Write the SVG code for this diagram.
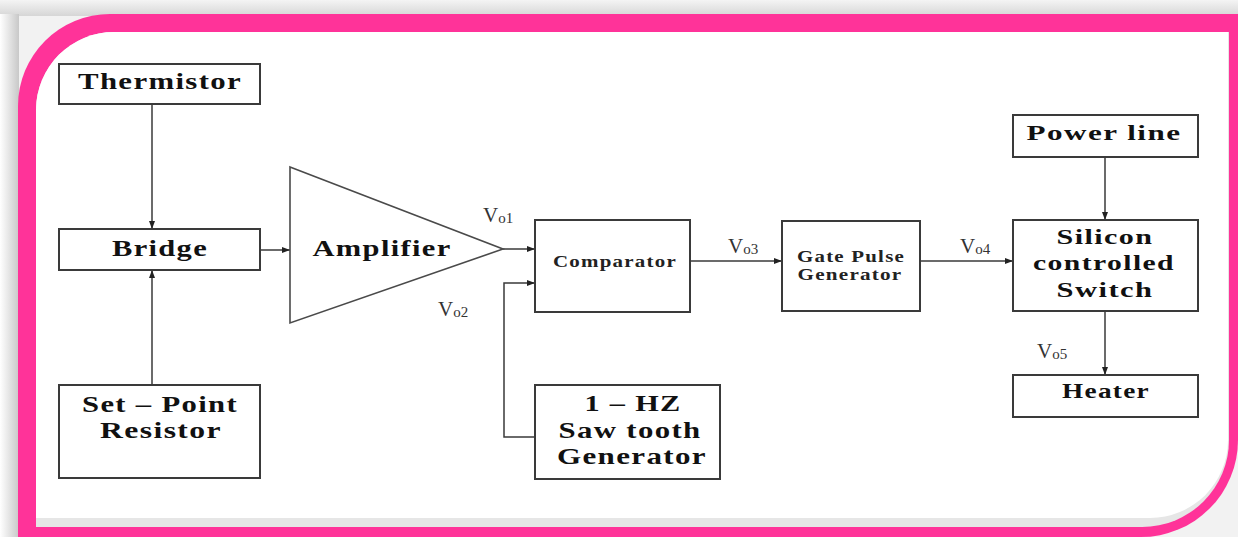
<svg xmlns="http://www.w3.org/2000/svg" width="1238" height="537" viewBox="0 0 1238 537">
<defs>
<style>
.box{fill:#fff;stroke:#3a3a3a;stroke-width:2}
.amp{fill:#fff;stroke:#4a4a4a;stroke-width:1.6}
.lbl{font-family:"Liberation Serif",serif;font-weight:bold;fill:#111;text-anchor:middle;letter-spacing:1px}
.big{font-size:23px}
.med{font-size:21px}
.sm{font-size:17px;fill:#222}
.v{font-family:"Liberation Serif",serif;font-size:21px;fill:#333}
.sub{font-size:15px}
.con{fill:none;stroke:#3a3a3a;stroke-width:1.5}
</style>
<marker id="ah" viewBox="0 0 8 6" refX="8" refY="3" markerWidth="8" markerHeight="6" markerUnits="userSpaceOnUse" orient="auto">
<path d="M0 0 L8 3 L0 6 Z" fill="#222"/>
</marker>
<linearGradient id="topsh" x1="0" y1="0" x2="0" y2="1">
<stop offset="0" stop-color="#f4f4f4"/>
<stop offset="1" stop-color="#d6d6d6"/>
</linearGradient>
<linearGradient id="leftsh" x1="0" y1="0" x2="1" y2="0">
<stop offset="0" stop-color="#ffffff"/>
<stop offset="1" stop-color="#c8c8c8"/>
</linearGradient>
</defs>
<g id="frame">
<rect x="0" y="0" width="1238" height="537" fill="#f2f2f2"/>
<rect x="0" y="0" width="1238" height="16" fill="url(#topsh)"/>
<rect x="0" y="14" width="19" height="523" fill="url(#leftsh)"/>
<path d="M18 537 L18 106 A92 92 0 0 1 110 14 L1238 14 L1238 440 A97 97 0 0 1 1141 537 Z" fill="#ff3399"/>
<path d="M36 527 L36 110 A78 78 0 0 1 114 32 L1229 32 L1229 440 A87 87 0 0 1 1142 527 Z" fill="#e6e6e6"/>
<path d="M36 518 L36 110 A78 78 0 0 1 114 32 L1228 32 L1228 440 A78 78 0 0 1 1150 518 Z" fill="#ffffff"/>
</g>
<g id="connectors">
<path class="con" d="M152 104 V229" marker-end="url(#ah)"/>
<path class="con" d="M152 385 V270" marker-end="url(#ah)"/>
<path class="con" d="M260 250 H290" marker-end="url(#ah)"/>
<path class="con" d="M503 249 H535" marker-end="url(#ah)"/>
<path class="con" d="M535 437 H504 V283 H535" marker-end="url(#ah)"/>
<path class="con" d="M690 261 H782" marker-end="url(#ah)"/>
<path class="con" d="M920 261 H1013" marker-end="url(#ah)"/>
<path class="con" d="M1105 157 V220" marker-end="url(#ah)"/>
<path class="con" d="M1105 311 V375" marker-end="url(#ah)"/>
</g>
<g id="thermistor">
<rect class="box" x="59" y="64" width="201" height="40"/>
<text class="lbl big" x="160" y="89" textLength="164" lengthAdjust="spacingAndGlyphs">Thermistor</text>
</g>
<g id="bridge">
<rect class="box" x="59" y="229" width="201" height="41"/>
<text class="lbl big" x="160" y="256" textLength="96" lengthAdjust="spacingAndGlyphs">Bridge</text>
</g>
<g id="setpoint">
<rect class="box" x="59" y="385" width="201" height="93"/>
<text class="lbl big" x="160" y="412" textLength="156" lengthAdjust="spacingAndGlyphs">Set – Point</text>
<text class="lbl big" x="161" y="438" textLength="122" lengthAdjust="spacingAndGlyphs">Resistor</text>
</g>
<g id="amplifier">
<path class="amp" d="M290 167 L503 249 L290 323 Z"/>
<text class="lbl big" x="382" y="256" textLength="139" lengthAdjust="spacingAndGlyphs">Amplifier</text>
</g>
<g id="comparator">
<rect class="box" x="535" y="220" width="155" height="92"/>
<text class="lbl sm" x="615" y="267" textLength="124" lengthAdjust="spacingAndGlyphs">Comparator</text>
</g>
<g id="sawtooth">
<rect class="box" x="535" y="385" width="185" height="94"/>
<text class="lbl big" x="633" y="411" textLength="97" lengthAdjust="spacingAndGlyphs">1 – HZ</text>
<text class="lbl big" x="630" y="438" textLength="143" lengthAdjust="spacingAndGlyphs">Saw tooth</text>
<text class="lbl big" x="632" y="464" textLength="150" lengthAdjust="spacingAndGlyphs">Generator</text>
</g>
<g id="gatepulse">
<rect class="box" x="782" y="221" width="138" height="90"/>
<text class="lbl sm" x="851" y="262" textLength="108" lengthAdjust="spacingAndGlyphs">Gate Pulse</text>
<text class="lbl sm" x="850" y="280" textLength="105" lengthAdjust="spacingAndGlyphs">Generator</text>
</g>
<g id="powerline">
<rect class="box" x="1013" y="115" width="185" height="42"/>
<text class="lbl med" x="1104" y="140" textLength="155" lengthAdjust="spacingAndGlyphs">Power line</text>
</g>
<g id="scs">
<rect class="box" x="1013" y="220" width="185" height="91"/>
<text class="lbl med" x="1105" y="244" textLength="97" lengthAdjust="spacingAndGlyphs">Silicon</text>
<text class="lbl med" x="1104" y="270" textLength="142" lengthAdjust="spacingAndGlyphs">controlled</text>
<text class="lbl med" x="1105" y="297" textLength="97" lengthAdjust="spacingAndGlyphs">Switch</text>
</g>
<g id="heater">
<rect class="box" x="1013" y="375" width="185" height="42"/>
<text class="lbl med" x="1106" y="398" textLength="88" lengthAdjust="spacingAndGlyphs">Heater</text>
</g>
<g id="labels">
<text class="v" x="483" y="222">V<tspan class="sub" dy="1">o1</tspan></text>
<text class="v" x="438" y="316">V<tspan class="sub" dy="1">o2</tspan></text>
<text class="v" x="728" y="253">V<tspan class="sub" dy="1">o3</tspan></text>
<text class="v" x="960" y="253">V<tspan class="sub" dy="1">o4</tspan></text>
<text class="v" x="1037" y="358">V<tspan class="sub" dy="1">o5</tspan></text>
</g>
</svg>
